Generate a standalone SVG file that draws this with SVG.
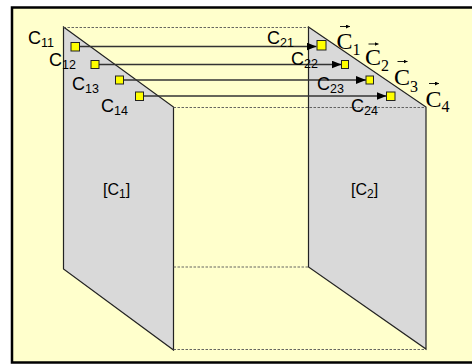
<svg xmlns="http://www.w3.org/2000/svg" width="472" height="364" viewBox="0 0 472 364">
<defs>
<style>
.bg{fill:#FFFFCC;stroke:#000;stroke-width:2.5}
.panel{fill:#D9D9D9;stroke:#222;stroke-width:1.2;stroke-linejoin:miter}
.dash{stroke:#555;stroke-width:0.9;stroke-dasharray:2.5,1.5;fill:none}
.sq{fill:#FFFF00;stroke:#222;stroke-width:1}
.ln{stroke:#333;stroke-width:1.3;fill:none}
.vec{stroke:#000;stroke-width:0.9;fill:none}
.sans{font-family:"Liberation Sans",Arial,sans-serif;fill:#000}
.serif{font-family:"Liberation Serif","Times New Roman",serif;fill:#000}
</style>
<marker id="ah" markerWidth="10" markerHeight="8" refX="10" refY="4" orient="auto" markerUnits="userSpaceOnUse">
<path d="M0,0 L10,4 L0,8 Z" fill="#000"/>
</marker>
<marker id="vh" markerWidth="4" markerHeight="4" refX="4" refY="2" orient="auto" markerUnits="userSpaceOnUse">
<path d="M0,0 L4,2 L0,4 Z" fill="#000"/>
</marker>
</defs>
<rect class="bg" x="12" y="7.5" width="480" height="355"/>
<g id="panel1">
<polygon class="panel" points="63.5,27 173.5,107 173.5,350 63.5,269"/>
<text class="sans" x="103" y="195" font-size="16">[C<tspan font-size="12" dy="3">1</tspan><tspan dy="-3">]</tspan></text>
</g>
<g id="panel2">
<polygon class="panel" points="308.5,27 426,107 426,349 308.5,267"/>
<text class="sans" x="351" y="195" font-size="16">[C<tspan font-size="12" dy="3">2</tspan><tspan dy="-3">]</tspan></text>
</g>
<g id="guides">
<line class="dash" x1="63.5" y1="27.5" x2="308.5" y2="27.5"/>
<line class="dash" x1="173.5" y1="107.5" x2="426" y2="107.5"/>
<line class="dash" x1="173.5" y1="267" x2="308.5" y2="267"/>
<line class="dash" x1="173.5" y1="349.5" x2="426" y2="349.5"/>
</g>
<g id="connectors">
<line class="ln" x1="79" y1="46.5" x2="316.5" y2="46.5" marker-end="url(#ah)"/>
<line class="ln" x1="99" y1="64.5" x2="341.5" y2="64.5" marker-end="url(#ah)"/>
<line class="ln" x1="123" y1="80" x2="366" y2="80" marker-end="url(#ah)"/>
<line class="ln" x1="143" y1="96" x2="386.5" y2="96" marker-end="url(#ah)"/>
</g>
<g id="left-points">
<rect class="sq" x="71" y="42.5" width="8.5" height="8.5"/>
<rect class="sq" x="91" y="60.5" width="8" height="8"/>
<rect class="sq" x="115.5" y="76" width="8" height="8"/>
<rect class="sq" x="135.5" y="92" width="8" height="8.5"/>
<text class="sans" x="28" y="44" font-size="18">C<tspan font-size="12.5" dy="3">11</tspan></text>
<text class="sans" x="49" y="66" font-size="18">C<tspan font-size="12.5" dy="3">12</tspan></text>
<text class="sans" x="72" y="90" font-size="18">C<tspan font-size="12.5" dy="3">13</tspan></text>
<text class="sans" x="101" y="111.5" font-size="18">C<tspan font-size="12.5" dy="3">14</tspan></text>
</g>
<g id="right-points">
<rect class="sq" x="317" y="40.5" width="9" height="9.5"/>
<rect class="sq" x="341.5" y="60.5" width="7" height="8"/>
<rect class="sq" x="366" y="76" width="7.5" height="8"/>
<rect class="sq" x="386.5" y="92" width="8.5" height="8.5"/>
<text class="sans" x="267" y="44" font-size="18">C<tspan font-size="12.5" dy="3">21</tspan></text>
<text class="sans" x="291" y="65" font-size="18">C<tspan font-size="12.5" dy="3">22</tspan></text>
<text class="sans" x="317" y="90" font-size="18">C<tspan font-size="12.5" dy="3">23</tspan></text>
<text class="sans" x="351" y="112" font-size="18">C<tspan font-size="12.5" dy="3">24</tspan></text>
</g>
<g id="vectors">
<text class="serif" x="336.5" y="48.5" font-size="24">C<tspan font-size="16" dy="6.5">1</tspan></text>
<line class="vec" x1="340" y1="26.5" x2="350" y2="26.5" marker-end="url(#vh)"/>
<text class="serif" x="365" y="64.5" font-size="24">C<tspan font-size="16" dy="6.5">2</tspan></text>
<line class="vec" x1="368.5" y1="44" x2="378.5" y2="44" marker-end="url(#vh)"/>
<text class="serif" x="394" y="85" font-size="24">C<tspan font-size="16" dy="6.5">3</tspan></text>
<line class="vec" x1="397.5" y1="61.5" x2="407.5" y2="61.5" marker-end="url(#vh)"/>
<text class="serif" x="425.5" y="106.5" font-size="24">C<tspan font-size="16" dy="5.5">4</tspan></text>
<line class="vec" x1="429" y1="83.5" x2="439" y2="83.5" marker-end="url(#vh)"/>
</g>
</svg>
